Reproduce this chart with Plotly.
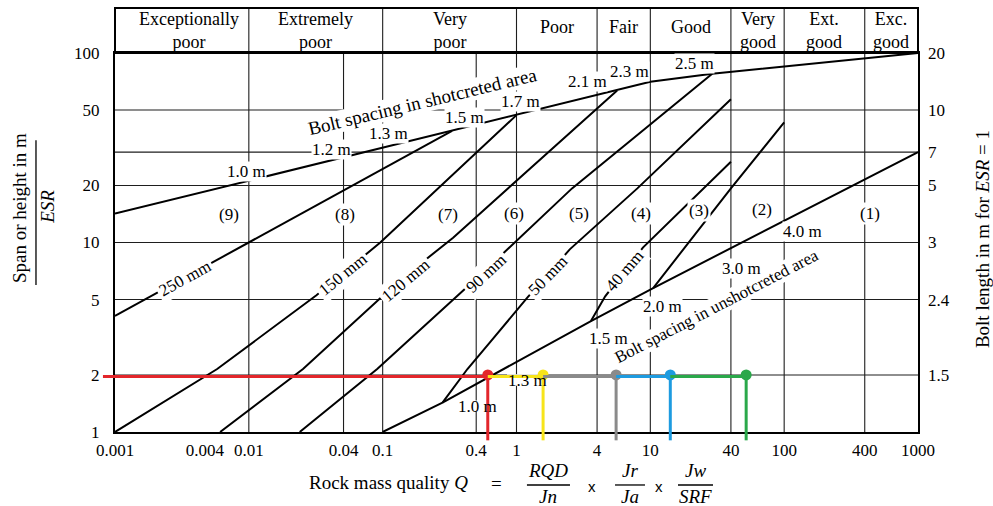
import math
import plotly.graph_objects as go

# ---------------- data ----------------
# Q = rock mass quality (x), S = span or height / ESR (y)
shot_q = [0.001, 0.33, 1.0, 5.65, 10, 29, 100, 1000]          # bolt spacing in shotcreted area
shot_s = [14.2, 38.8, 47, 63.4, 70.5, 77.8, 85, 100]
unshot_q = [0.1, 0.28, 3.6, 10.5, 1000]                        # bolt spacing in unshotcreted area
unshot_s = [1.0, 1.43, 3.85, 5.75, 30]
t250_q = [0.001, 0.01, 0.33]
t250_s = [4.1, 10, 38.8]
t150_q = [0.001, 0.0058, 0.032, 0.096, 1.0]
t150_s = [1.0, 2.15, 5.27, 10, 47]
t120_q = [0.0061, 0.0254, 0.135, 0.336, 5.65]
t120_s = [1.0, 2.15, 6.34, 10.6, 63.4]
t90_q = [0.024, 0.091, 0.58, 1.0, 2.6, 29]
t90_s = [1.0, 2.15, 7.1, 10.2, 19.3, 77.8]
t50_q = [0.28, 0.43, 0.64, 1.2, 2.5, 8.0, 40]
t50_s = [1.43, 2.15, 3.0, 5.1, 9.2, 19.3, 57]
t40_q = [3.6, 4.6, 8.8, 24.8, 40]
t40_s = [3.85, 5.2, 9.4, 19.3, 26.7]
b32_q = [10.5, 40, 100]                                        # boundary between (3) and (2)
b32_s = [5.75, 19.3, 43]

# example reading (coloured path at span/ESR = 2)
ex_q = [0.61, 1.58, 5.55, 14.1, 52]
ex_s = 2
ex_colors = ["#e3262b", "#f7e41a", "#8a8a8a", "#1d9be0", "#2aa84a"]

# axes
x_tick_text = ["0.001", "0.004", "0.01", "0.04", "0.1", "0.4", "1", "4", "10", "40", "100", "400", "1000"]
x_tick_pos = [0.001, 0.0047, 0.01, 0.051, 0.1, 0.5, 1, 4, 10, 40, 100, 400, 1000]  # as drawn on the chart
y_left_vals = [1, 2, 5, 10, 20, 50, 100]
y_right_vals = [2, 5, 10, 20, 30, 50, 100]
bolt_length = ["1.5", "2.4", "3", "5", "7", "10", "20"]
grid_q = [0.01, 0.051, 0.1, 0.5, 1, 4, 10, 40, 100, 400]
grid_s = [2, 5, 10, 20, 30, 50]

# rock mass classes (header)
class_bounds = [0.001, 0.01, 0.1, 1, 4, 10, 40, 100, 400, 1000]
class_names = [["Exceptionally", "poor"], ["Extremely", "poor"], ["Very", "poor"], ["Poor"], ["Fair"],
               ["Good"], ["Very", "good"], ["Ext.", "good"], ["Exc.", "good"]]

# text labels: (text, Q, S[, angle])
spacing_labels = [("1.0 m", 0.00968, 23.6), ("1.2 m", 0.0418, 30.8), ("1.3 m", 0.110, 37.4),
                  ("1.5 m", 0.406, 45.9), ("1.7 m", 1.08, 55.8), ("2.1 m", 3.37, 71.1),
                  ("2.3 m", 6.93, 79.4), ("2.5 m", 21.2, 88.5),
                  ("4.0 m", 138, 11.4), ("3.0 m", 47.6, 7.33), ("2.0 m", 12.4, 4.57), ("1.5 m", 4.91, 3.13)]
plain_labels = [("1.3 m", 1.2, 1.88), ("1.0 m", 0.507, 1.37)]
category_labels = [("(9)", 0.00711, 14.1), ("(8)", 0.0524, 14.1), ("(7)", 0.308, 14.1), ("(6)", 0.957, 14.3),
                   ("(5)", 2.93, 14.3), ("(4)", 8.51, 14.3), ("(3)", 23.1, 14.7), ("(2)", 68.4, 14.9),
                   ("(1)", 438.5, 14.3)]
thickness_labels = [("250 mm", 0.00333, 6.45, -29), ("150 mm", 0.0506, 6.75, -39), ("120 mm", 0.149, 6.27, -40),
                    ("90 mm", 0.592, 6.9, -43), ("50 mm", 1.72, 6.7, -46), ("40 mm", 6.47, 7.08, -49)]
line_titles = [("Bolt spacing in shotcreted area", 0.2, 55.8, -13.5, 19),
               ("Bolt spacing in unshotcreted area", 30.97, 4.62, -27.5, 17)]

FONT = "Liberation Serif"
GRID = dict(color="#1e1e1e", width=1.1)

fig = go.Figure()
for q, s in [(shot_q, shot_s), (unshot_q, unshot_s), (t250_q, t250_s), (t150_q, t150_s), (t120_q, t120_s),
             (t90_q, t90_s), (t50_q, t50_s), (t40_q, t40_s), (b32_q, b32_s)]:
    fig.add_trace(go.Scatter(x=q, y=s, mode="lines", line=dict(color="black", width=2),
                             hoverinfo="skip", showlegend=False))

# dummy trace for right axis
fig.add_trace(go.Scatter(x=[1], y=[10], yaxis="y2", mode="markers", marker=dict(opacity=0),
                         hoverinfo="skip", showlegend=False))

shapes = []
hdr_top = 1 + 45 / 379
header_q = set(class_bounds[1:-1])
for q in grid_q:
    shapes.append(dict(type="line", xref="x", yref="paper", x0=q, x1=q, y0=0,
                       y1=hdr_top if q in header_q else 1, line=GRID, layer="below"))
for s in grid_s:
    shapes.append(dict(type="line", xref="paper", yref="y", x0=0, x1=1, y0=s, y1=s, line=GRID, layer="below"))
# white masks behind small labels sitting near coloured lines
for txt, q, s in plain_labels:
    lq, ls = math.log10(q), math.log10(s)
    shapes.append(dict(type="rect", xref="x", yref="y", x0=10 ** (lq - 0.15), x1=10 ** (lq + 0.15),
                       y0=10 ** (ls - 0.03), y1=10 ** (ls + 0.03), fillcolor="white",
                       line=dict(width=0), layer="below"))
# header box
shapes.append(dict(type="rect", xref="paper", yref="paper", x0=0, x1=1, y0=1, y1=hdr_top,
                   line=dict(color="black", width=2), layer="above"))

# coloured example path
ex_y_line = ex_s * 0.98
prev = None
for q, c in zip(ex_q, ex_colors):
    if prev is None:
        shapes.append(dict(type="line", xref="paper", yref="y", x0=-0.015, x1=(math.log10(q) + 3) / 6,
                           y0=ex_y_line, y1=ex_y_line, line=dict(color=c, width=3), layer="above"))
    else:
        shapes.append(dict(type="line", xref="x", yref="y", x0=prev, x1=q, y0=ex_y_line, y1=ex_y_line,
                           line=dict(color=c, width=3), layer="above"))
    shapes.append(dict(type="line", xref="x", yref="paper", x0=q, x1=q, y0=math.log10(ex_y_line) / 2,
                       y1=-0.022, line=dict(color=c, width=3), layer="above"))
    prev = q
fig.add_trace(go.Scatter(x=ex_q, y=[ex_s] * len(ex_q), mode="markers", cliponaxis=False,
                         marker=dict(size=11, color=ex_colors), hoverinfo="skip", showlegend=False))

# fraction bars
shapes.append(dict(type="line", xref="paper", yref="paper", x0=-0.0984, x1=-0.0984, y0=0.388, y1=0.770,
                   line=dict(color="black", width=1.3)))
for x0, x1 in [(0.513, 0.5666), (0.6227, 0.66), (0.7011, 0.7447)]:
    shapes.append(dict(type="line", xref="paper", yref="paper", x0=x0, x1=x1, y0=-0.1398, y1=-0.1398,
                       line=dict(color="black", width=1.3)))

ann = []


def A(text, x, y, xref="x", yref="y", size=17, angle=0, bg=None, pad=1, family=FONT, **kw):
    d = dict(text=text, x=x, y=y, xref=xref, yref=yref, showarrow=False, textangle=angle,
             font=dict(family=family, size=size, color="black"), xanchor="center", yanchor="middle",
             borderpad=pad)
    if bg:
        d["bgcolor"] = bg
    d.update(kw)
    ann.append(d)


for txt, q, s, a, sz in line_titles:
    A(txt, math.log10(q), math.log10(s), angle=a, size=sz, bg="white", pad=0)
for txt, q, s in spacing_labels:
    A(txt, math.log10(q), math.log10(s), bg="white", pad=0)
for txt, q, s in plain_labels:
    A(txt, math.log10(q), math.log10(s))
for txt, q, s in category_labels:
    A(txt, math.log10(q), math.log10(s), bg="white", pad=1)
for txt, q, s, a in thickness_labels:
    A(txt, math.log10(q), math.log10(s), angle=a, bg="white", pad=2)

# header texts
for (lo, hi), lines in zip(zip(class_bounds[:-1], class_bounds[1:]), class_names):
    xc = (math.log10(lo) + math.log10(hi)) / 2
    if lo == 0.001:
        xc += 0.05
    if len(lines) == 1:
        A(lines[0], xc, 1.0686, yref="paper", size=18)
    else:
        A("<br>".join(lines), xc, 1.0593, yref="paper", size=18, pad=0)

# axis titles
A("Span or height in m", -0.1196, 0.591, xref="paper", yref="paper", size=19, angle=-90)
A("<i>ESR</i>", -0.0835, 0.594, xref="paper", yref="paper", size=19, angle=-90)
A("Bolt length in m for <i>ESR</i> = 1", 1.0797, 0.509, xref="paper", yref="paper", size=19, angle=-90)
A("Rock mass quality <i>Q</i>", 0.340, -0.132, xref="paper", yref="paper", size=19)
A("=", 0.4757, -0.1346, xref="paper", yref="paper", size=19)
A("<i>RQD</i>", 0.5392, -0.1029, xref="paper", yref="paper", size=19)
A("<i>Jn</i>", 0.5392, -0.1715, xref="paper", yref="paper", size=19)
A("x", 0.594, -0.1425, xref="paper", yref="paper", size=15, family="Liberation Sans")
A("<i>Jr</i>", 0.6413, -0.1029, xref="paper", yref="paper", size=19)
A("<i>Ja</i>", 0.6413, -0.1715, xref="paper", yref="paper", size=19)
A("x", 0.6775, -0.1425, xref="paper", yref="paper", size=15, family="Liberation Sans")
A("<i>Jw</i>", 0.7229, -0.1029, xref="paper", yref="paper", size=19)
A("<i>SRF</i>", 0.7229, -0.1715, xref="paper", yref="paper", size=19)

fig.update_layout(
    width=993, height=506, margin=dict(l=115, r=75, t=53, b=74),
    paper_bgcolor="white", plot_bgcolor="rgba(0,0,0,0)",
    font=dict(family=FONT, size=17, color="black"), showlegend=False,
    xaxis=dict(type="log", range=[-3, 3], tickvals=x_tick_pos, ticktext=x_tick_text, showgrid=False,
               zeroline=False, showline=True, linecolor="black", linewidth=2, mirror=True, ticks="",
               ticklabelstandoff=2, tickfont=dict(family=FONT, size=17)),
    yaxis=dict(type="log", range=[0, 2], tickvals=y_left_vals, ticktext=[str(v) for v in y_left_vals],
               showgrid=False, zeroline=False, showline=True, linecolor="black", linewidth=2, mirror=True,
               ticks="", ticklabelstandoff=10, tickfont=dict(family=FONT, size=17)),
    yaxis2=dict(type="log", range=[0, 2], overlaying="y", side="right", tickvals=y_right_vals,
                ticktext=bolt_length, showgrid=False, zeroline=False, showline=False, ticks="",
                ticklabelstandoff=9, tickfont=dict(family=FONT, size=17)),
    shapes=shapes, annotations=ann,
)

fig.write_html("out.html")
